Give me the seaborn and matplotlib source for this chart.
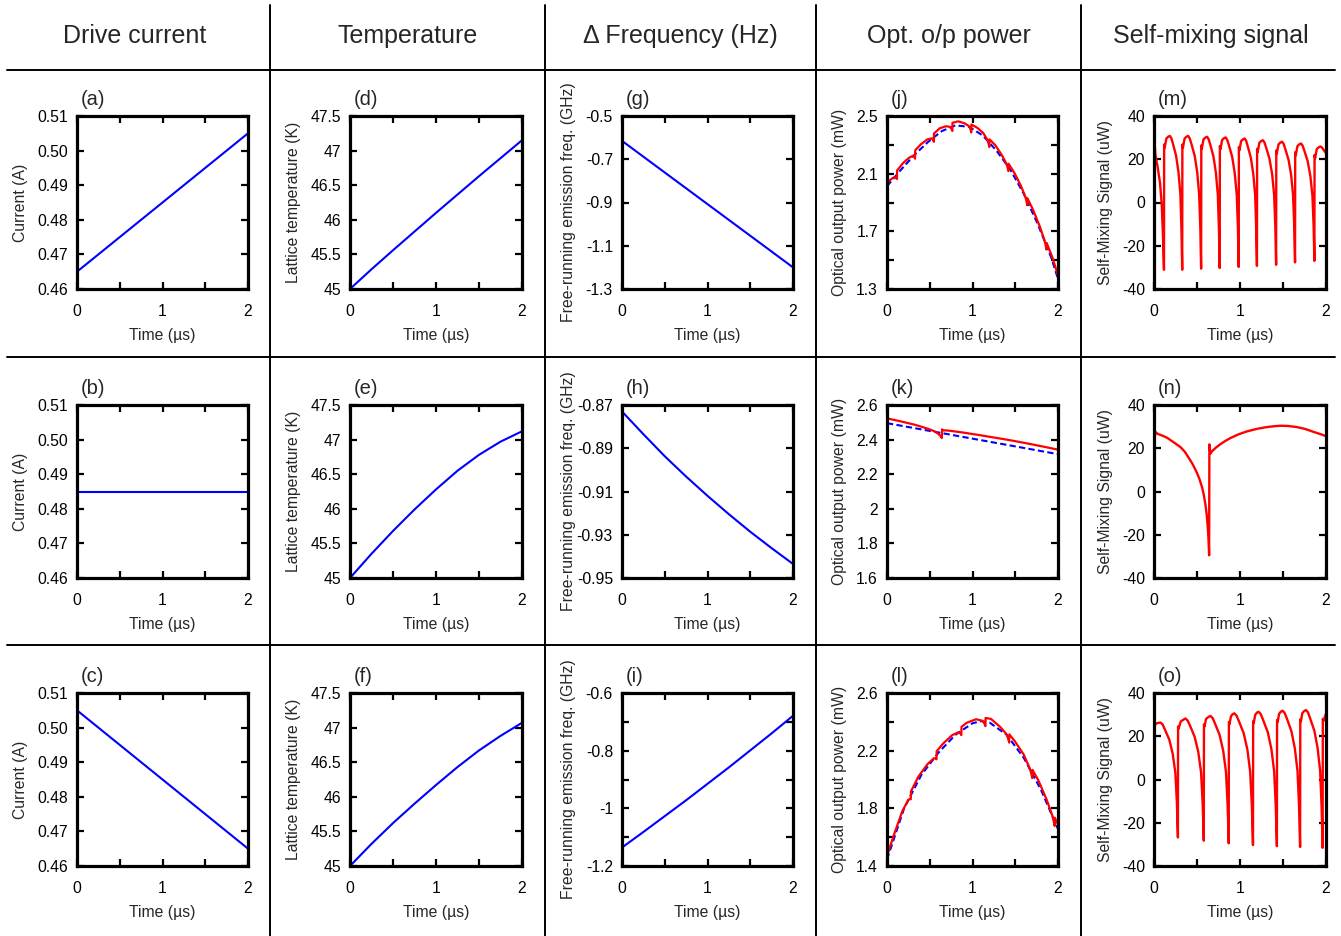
import matplotlib
matplotlib.use("Agg")
import matplotlib.pyplot as plt
from matplotlib.lines import Line2D
import seaborn as sns

# ---------------- column headers ----------------
headers = ["Drive current", "Temperature", "\u0394 Frequency (Hz)",
           "Opt. o/p power", "Self-mixing signal"]

# ---------------- time axis (us) ----------------
time_ticks = [0, 1, 2]
time_tick_labels = ["0", "1", "2"]
time_minor = [0.5, 1.5]

# ---------------- drive current (A) ----------------
t_current = [0.0, 2.0]
current_up = [0.465, 0.505]
current_const = [0.485, 0.485]
current_down = [0.505, 0.465]

# ---------------- lattice temperature (K) ----------------
t_temp = [0.0, 0.25, 0.5, 0.75, 1.0, 1.25, 1.5, 1.75, 2.0]
temp_up = [45.0, 45.285, 45.56, 45.83, 46.10, 46.365, 46.63, 46.89, 47.15]
temp_const = [45.0, 45.35, 45.68, 45.99, 46.28, 46.55, 46.78, 46.97, 47.12]
temp_down = [45.0, 45.32, 45.62, 45.90, 46.17, 46.43, 46.67, 46.88, 47.07]

# ---------------- free-running emission frequency (GHz) ----------------
t_freq_lin = [0.0, 2.0]
freq_up = [-0.615, -1.200]
t_freq = [0.0, 0.25, 0.5, 0.75, 1.0, 1.25, 1.5, 1.75, 2.0]
freq_const = [-0.873, -0.8835, -0.8937, -0.9031, -0.912, -0.9205, -0.9286, -0.9362, -0.9435]
freq_down = [-1.136, -1.082, -1.027, -0.972, -0.915, -0.858, -0.799, -0.740, -0.679]

# ---------------- optical output power (mW) ----------------
# solitary laser (dashed) and laser with feedback (solid)
t_pow_up = [0.0, 0.16, 0.32, 0.48, 0.64, 0.80, 0.96, 1.12, 1.28, 1.44, 1.60, 1.76, 1.92, 2.0]
pow_up_solitary = [2.013, 2.125, 2.23, 2.32, 2.395, 2.435, 2.425, 2.365, 2.26, 2.13, 1.96, 1.755, 1.52, 1.37]
t_pow_up_fb = [0.000, 0.004, 0.016, 0.040, 0.070, 0.090, 0.104, 0.116,
               0.118, 0.185, 0.257, 0.307, 0.319, 0.328,
               0.330, 0.397, 0.473, 0.525, 0.539, 0.548,
               0.550, 0.617, 0.691, 0.742, 0.755, 0.764,
               0.766, 0.833, 0.909, 0.962, 0.976, 0.985,
               0.987, 1.054, 1.126, 1.176, 1.188, 1.197,
               1.199, 1.266, 1.343, 1.397, 1.411, 1.420,
               1.422, 1.489, 1.565, 1.617, 1.631, 1.640,
               1.642, 1.709, 1.787, 1.842, 1.856, 1.865,
               1.867, 1.934, 1.967, 2.000]
pow_up_fb = [2.013, 2.044, 2.046, 2.058, 2.071, 2.075, 2.071, 2.063,
             2.122, 2.172, 2.210, 2.225, 2.217, 2.204,
             2.262, 2.304, 2.338, 2.345, 2.335, 2.321,
             2.379, 2.415, 2.429, 2.424, 2.412, 2.396,
             2.453, 2.463, 2.449, 2.428, 2.407, 2.386,
             2.441, 2.419, 2.382, 2.332, 2.309, 2.285,
             2.338, 2.298, 2.229, 2.168, 2.142, 2.118,
             2.169, 2.106, 2.017, 1.942, 1.909, 1.881,
             1.930, 1.848, 1.734, 1.638, 1.603, 1.574,
             1.620, 1.520, 1.457, 1.393]

t_pow_const = [0.0, 2.0]
pow_const_solitary = [2.495, 2.316]
t_pow_const_fb = [0.000, 0.005, 0.045, 0.154, 0.309, 0.400, 0.500, 0.560, 0.600, 0.625, 0.641,
                  0.644, 0.655, 0.720, 0.888, 1.081, 1.313, 1.467, 1.660, 1.853, 2.000]
pow_const_fb = [2.495, 2.524, 2.518, 2.506, 2.488, 2.475, 2.459, 2.447, 2.433, 2.421, 2.409,
                2.459, 2.454, 2.452, 2.441, 2.426, 2.407, 2.394, 2.376, 2.357, 2.342]

t_pow_down = [0.0, 0.2, 0.4, 0.6, 0.8, 1.0, 1.1, 1.2, 1.4, 1.6, 1.8, 2.0]
pow_down_solitary = [1.446, 1.80, 2.03, 2.185, 2.31, 2.39, 2.405, 2.395, 2.31, 2.15, 1.93, 1.656]
t_pow_down_fb = [0.000, 0.002, 0.077, 0.178, 0.248, 0.266, 0.278,
                 0.280, 0.367, 0.473, 0.547, 0.566, 0.579,
                 0.581, 0.656, 0.763, 0.837, 0.856, 0.869,
                 0.871, 0.934, 1.043, 1.118, 1.138, 1.151,
                 1.153, 1.216, 1.323, 1.397, 1.416, 1.429,
                 1.431, 1.496, 1.598, 1.669, 1.687, 1.699,
                 1.701, 1.768, 1.865, 1.932, 1.949, 1.961,
                 1.963, 2.000]
pow_down_fb = [1.446, 1.474, 1.609, 1.779, 1.858, 1.865, 1.863,
               1.917, 2.020, 2.106, 2.147, 2.147, 2.140,
               2.196, 2.249, 2.308, 2.328, 2.321, 2.308,
               2.365, 2.394, 2.418, 2.407, 2.389, 2.370,
               2.427, 2.420, 2.365, 2.315, 2.285, 2.256,
               2.313, 2.265, 2.174, 2.078, 2.042, 2.010,
               2.067, 1.997, 1.864, 1.753, 1.713, 1.678,
               1.735, 1.687]

# ---------------- self-mixing signal (uW) ----------------
t_sm_up = [0.000, 0.004, 0.010, 0.016, 0.040, 0.070, 0.090, 0.104, 0.116,
           0.118, 0.124, 0.144, 0.165, 0.185, 0.202, 0.221, 0.257, 0.285, 0.307, 0.319, 0.328,
           0.330, 0.336, 0.356, 0.377, 0.397, 0.415, 0.435, 0.473, 0.503, 0.525, 0.539, 0.548,
           0.550, 0.556, 0.576, 0.597, 0.617, 0.635, 0.654, 0.691, 0.720, 0.742, 0.755, 0.764,
           0.766, 0.772, 0.792, 0.813, 0.833, 0.851, 0.871, 0.909, 0.939, 0.962, 0.976, 0.985,
           0.987, 0.993, 1.013, 1.034, 1.054, 1.071, 1.090, 1.126, 1.154, 1.176, 1.188, 1.197,
           1.199, 1.205, 1.225, 1.246, 1.266, 1.284, 1.305, 1.343, 1.374, 1.397, 1.411, 1.420,
           1.422, 1.428, 1.448, 1.469, 1.489, 1.507, 1.527, 1.565, 1.595, 1.617, 1.631, 1.640,
           1.642, 1.648, 1.668, 1.689, 1.709, 1.728, 1.748, 1.787, 1.818, 1.842, 1.856, 1.865,
           1.867, 1.873, 1.893, 1.914, 1.934, 1.952, 1.967, 2.000]
sm_up = [0.0, 28.0, 26.0, 22.0, 17.0, 9.0, -1.0, -15.0, -31.1,
         26.8, 25.3, 29.6, 30.4, 30.8, 29.7, 27.1, 21.6, 13.9, 3.7, -12.3, -31.1,
         26.8, 25.3, 29.6, 30.4, 30.8, 29.7, 27.1, 21.6, 13.9, 3.7, -12.3, -30.6,
         26.4, 24.9, 29.2, 30.0, 30.4, 29.3, 26.8, 21.3, 13.7, 3.6, -12.2, -30.3,
         26.1, 24.6, 28.9, 29.7, 30.1, 29.0, 26.5, 21.1, 13.5, 3.6, -12.0, -29.8,
         25.6, 24.1, 28.4, 29.2, 29.6, 28.6, 26.0, 20.7, 13.3, 3.6, -11.8, -29.3,
         24.8, 23.3, 27.6, 28.4, 28.8, 27.8, 25.3, 20.2, 13.0, 3.5, -11.5, -28.8,
         24.1, 22.6, 26.9, 27.7, 28.1, 27.1, 24.7, 19.7, 12.6, 3.4, -11.2, -27.7,
         23.3, 21.8, 26.1, 26.9, 27.3, 26.3, 24.0, 19.1, 12.3, 3.3, -10.9, -27.0,
         22.0, 20.5, 24.7, 25.5, 25.9, 25.5, 24.6, 22.8]

t_sm_const = [0.000, 0.005, 0.010, 0.018, 0.045, 0.100, 0.154, 0.220, 0.309, 0.360, 0.400,
              0.450, 0.500, 0.530, 0.560, 0.580, 0.600, 0.615, 0.625, 0.634, 0.641,
              0.644, 0.650, 0.656, 0.672, 0.720, 0.772, 0.830, 0.888, 0.980, 1.081, 1.200,
              1.313, 1.400, 1.467, 1.560, 1.660, 1.760, 1.853, 1.930, 2.000]
sm_const = [0.0, 29.5, 25.5, 27.5, 26.6, 25.8, 24.8, 23.0, 20.5, 18.3, 15.8,
            12.6, 8.6, 5.6, 1.8, -1.8, -6.5, -11.5, -16.5, -22.0, -29.5,
            21.8, 19.5, 17.5, 18.5, 20.3, 21.9, 23.4, 24.7, 26.4, 27.8, 29.0,
            29.8, 30.2, 30.4, 30.3, 29.8, 28.9, 27.6, 26.6, 25.6]

t_sm_down = [0.000, 0.002, 0.020, 0.050, 0.077, 0.101, 0.127, 0.178, 0.218, 0.248, 0.266, 0.278,
             0.280, 0.286, 0.310, 0.347, 0.367, 0.392, 0.420, 0.473, 0.515, 0.547, 0.566, 0.579,
             0.581, 0.587, 0.605, 0.636, 0.656, 0.682, 0.709, 0.763, 0.805, 0.837, 0.856, 0.869,
             0.871, 0.877, 0.895, 0.914, 0.934, 0.960, 0.988, 1.043, 1.086, 1.118, 1.138, 1.151,
             1.153, 1.159, 1.177, 1.196, 1.216, 1.242, 1.269, 1.323, 1.365, 1.397, 1.416, 1.429,
             1.431, 1.437, 1.455, 1.476, 1.496, 1.520, 1.547, 1.598, 1.638, 1.669, 1.687, 1.699,
             1.701, 1.707, 1.725, 1.748, 1.768, 1.791, 1.816, 1.865, 1.903, 1.932, 1.949, 1.961,
             1.963, 1.970, 2.000]
sm_down = [0.0, 24.5, 25.8, 26.2, 26.3, 25.4, 23.1, 18.4, 11.8, 3.2, -10.5, -26.8,
           24.5, 23.5, 26.8, 27.8, 28.2, 27.2, 24.8, 19.7, 12.7, 3.4, -11.3, -28.3,
           25.5, 24.5, 28.0, 29.0, 29.4, 28.4, 25.9, 20.6, 13.2, 3.5, -11.8, -29.5,
           26.5, 25.5, 29.2, 30.2, 30.6, 29.5, 26.9, 21.4, 13.8, 3.7, -12.2, -30.3,
           27.0, 26.0, 29.9, 30.9, 31.3, 30.2, 27.5, 21.9, 14.1, 3.8, -12.5, -30.8,
           27.5, 26.5, 30.4, 31.4, 31.8, 30.7, 28.0, 22.3, 14.3, 3.8, -12.7, -31.2,
           27.8, 26.8, 30.7, 31.7, 32.1, 31.0, 28.2, 22.5, 14.4, 3.9, -12.8, -31.6,
           28.0, 27.0, 30.5]

# ---------------- y-axis ticks ----------------
current_ticks = [0.46, 0.47, 0.48, 0.49, 0.50, 0.51]
current_labels = ["0.46", "0.47", "0.48", "0.49", "0.50", "0.51"]
temp_ticks = [45, 45.5, 46, 46.5, 47, 47.5]
temp_labels = ["45", "45.5", "46", "46.5", "47", "47.5"]
freq_up_ticks = [-1.3, -1.1, -0.9, -0.7, -0.5]
freq_up_labels = ["-1.3", "-1.1", "-0.9", "-0.7", "-0.5"]
freq_const_ticks = [-0.95, -0.93, -0.91, -0.89, -0.87]
freq_const_labels = ["-0.95", "-0.93", "-0.91", "-0.89", "-0.87"]
freq_down_ticks = [-1.2, -1.0, -0.8, -0.6]
freq_down_labels = ["-1.2", "-1", "-0.8", "-0.6"]
freq_down_minor = [-1.1, -0.9, -0.7]
pow_up_ticks = [1.3, 1.7, 2.1, 2.5]
pow_up_labels = ["1.3", "1.7", "2.1", "2.5"]
pow_up_minor = [1.5, 1.9, 2.3]
pow_const_ticks = [1.6, 1.8, 2.0, 2.2, 2.4, 2.6]
pow_const_labels = ["1.6", "1.8", "2", "2.2", "2.4", "2.6"]
pow_down_ticks = [1.4, 1.8, 2.2, 2.6]
pow_down_labels = ["1.4", "1.8", "2.2", "2.6"]
pow_down_minor = [1.6, 2.0, 2.4]
sm_ticks = [-40, -20, 0, 20, 40]
sm_labels = ["-40", "-20", "0", "20", "40"]

ylabels = ["Current (A)", "Lattice temperature (K)", "Free-running emission freq. (GHz)",
           "Optical output power (mW)", "Self-Mixing Signal (uW)"]

# ---------------- style ----------------
sns.set_theme(style="ticks")
plt.rcParams["font.family"] = ["Liberation Sans", "DejaVu Sans"]
plt.rcParams["axes.edgecolor"] = "black"

BLUE = "#0000ff"
RED = "#ff0000"
FS = 11.3

W, H = 1341, 936
fig = plt.figure(figsize=(W / 100, H / 100), dpi=100)

col_px = [(77, 248), (350, 522), (622, 793), (887, 1058), (1154, 1326)]
row_px = [(116, 289), (405, 578), (693, 866)]


def make_axes(r, c):
    x0, x1 = col_px[c]
    y0, y1 = row_px[r]
    return fig.add_axes([x0 / W, 1 - y1 / H, (x1 - x0) / W, (y1 - y0) / H])


def style(ax, letter, ylabel, ticks, labels, minor=None, ylabel_x=None):
    ax.set_xlim(0, 2)
    ax.set_ylim(ticks[0], ticks[-1])
    ax.set_xticks(time_ticks, time_tick_labels)
    ax.set_xticks(time_minor, minor=True)
    ax.set_yticks(ticks, labels)
    if minor:
        ax.set_yticks(minor, minor=True)
    ax.tick_params(which="both", direction="in", top=True, right=True,
                   length=5, width=1.6, color="black", labelsize=FS, labelcolor="black")
    ax.tick_params(axis="x", which="both", pad=10.5)
    ax.tick_params(axis="y", which="both", pad=6.5)
    for s in ax.spines.values():
        s.set_visible(True)
        s.set_linewidth(2.3)
        s.set_color("black")
    ax.set_xlabel("Time (\u00b5s)", fontsize=FS, labelpad=7)
    ax.set_ylabel(ylabel, fontsize=FS, labelpad=6.5)
    if ylabel_x is not None:
        ax.yaxis.set_label_coords(ylabel_x, 0.5)
    ax.text(0.02, 1.065, f"({letter})", transform=ax.transAxes, fontsize=14.5,
            ha="left", va="baseline")


def line(ax, x, y, color, lw, dashed=False):
    kw = dict(linestyle=(0, (3, 1.6))) if dashed else {}
    sns.lineplot(x=x, y=y, ax=ax, color=color, linewidth=lw, estimator=None,
                 sort=False, legend=False, **kw)


# column 0: drive current
for r, (vals, letter) in enumerate([(current_up, "a"), (current_const, "b"), (current_down, "c")]):
    ax = make_axes(r, 0)
    line(ax, t_current, vals, BLUE, 1.5)
    style(ax, letter, ylabels[0], current_ticks, current_labels)

# column 1: temperature
for r, (vals, letter) in enumerate([(temp_up, "d"), (temp_const, "e"), (temp_down, "f")]):
    ax = make_axes(r, 1)
    line(ax, t_temp, vals, BLUE, 1.5)
    style(ax, letter, ylabels[1], temp_ticks, temp_labels)

# column 2: frequency (shared label offset so the three labels line up)
FREQ_LABEL_X = -0.27
ax = make_axes(0, 2)
line(ax, t_freq_lin, freq_up, BLUE, 1.5)
style(ax, "g", ylabels[2], freq_up_ticks, freq_up_labels, ylabel_x=FREQ_LABEL_X)
ax = make_axes(1, 2)
line(ax, t_freq, freq_const, BLUE, 1.5)
style(ax, "h", ylabels[2], freq_const_ticks, freq_const_labels, ylabel_x=FREQ_LABEL_X)
ax = make_axes(2, 2)
line(ax, t_freq, freq_down, BLUE, 1.5)
style(ax, "i", ylabels[2], freq_down_ticks, freq_down_labels, freq_down_minor,
      ylabel_x=FREQ_LABEL_X)

# column 3: optical output power
power_sets = [
    (t_pow_up, pow_up_solitary, t_pow_up_fb, pow_up_fb, "j", pow_up_ticks, pow_up_labels, pow_up_minor),
    (t_pow_const, pow_const_solitary, t_pow_const_fb, pow_const_fb, "k", pow_const_ticks, pow_const_labels, None),
    (t_pow_down, pow_down_solitary, t_pow_down_fb, pow_down_fb, "l", pow_down_ticks, pow_down_labels, pow_down_minor),
]
for r, (ts, ps, tf, pf, letter, tk, tl, mn) in enumerate(power_sets):
    ax = make_axes(r, 3)
    line(ax, ts, ps, BLUE, 1.5, dashed=True)
    line(ax, tf, pf, RED, 1.6)
    style(ax, letter, ylabels[3], tk, tl, mn)

# column 4: self-mixing signal
for r, (ts, vals, letter) in enumerate([(t_sm_up, sm_up, "m"), (t_sm_const, sm_const, "n"),
                                        (t_sm_down, sm_down, "o")]):
    ax = make_axes(r, 4)
    line(ax, ts, vals, RED, 1.7)
    style(ax, letter, ylabels[4], sm_ticks, sm_labels)

# table grid and column headers
col_edges = [0, 270, 545, 816, 1081, W]
for x in col_edges[1:-1]:
    fig.add_artist(Line2D([x / W, x / W], [1 - 5 / H, 0], color="black", lw=1.4))
for y in [70, 357, 645]:
    fig.add_artist(Line2D([7 / W, 1335 / W], [1 - y / H, 1 - y / H], color="black", lw=1.4))
for i, h in enumerate(headers):
    xc = (col_edges[i] + col_edges[i + 1]) / 2
    fig.text(xc / W, 1 - 36 / H, h, fontsize=18, ha="center", va="center")

fig.savefig("out.png", dpi=100)
